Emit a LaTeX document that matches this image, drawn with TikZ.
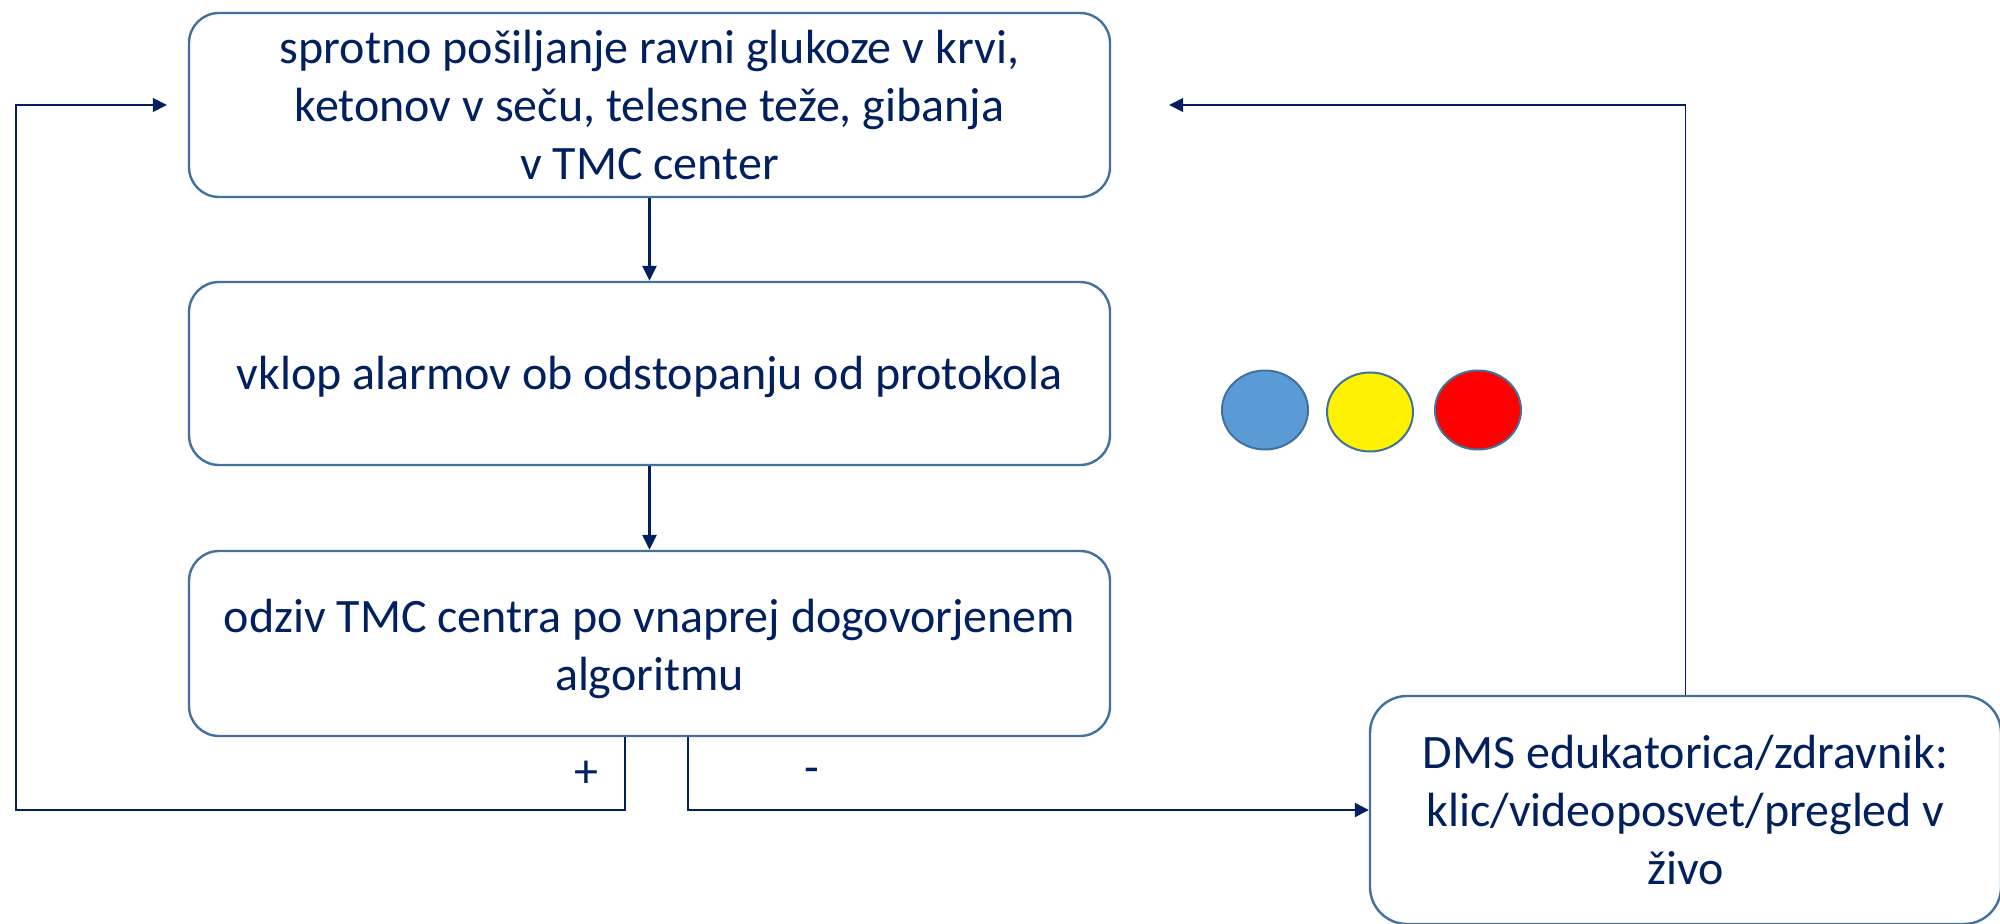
\documentclass[tikz,border=0pt]{standalone}
\usepackage{fontspec}
\setmainfont{Carlito}
\usetikzlibrary{arrows.meta,shapes.geometric,calc}
\definecolor{navy}{HTML}{002060}
\definecolor{boxline}{HTML}{41719C}
\definecolor{cblue}{HTML}{5B9BD5}
\tikzset{
  flowbox/.style={draw=boxline, line width=1.2pt, rounded corners=15pt, fill=white,
    text=navy, align=center, font=\fontsize{24}{29}\selectfont, inner sep=0pt},
  mainarrow/.style={draw=navy, line width=1.5pt, -{Triangle[length=7.5pt,width=7pt]}},
  looparrow/.style={draw=navy, line width=0.8pt, -{Triangle[length=7pt,width=7pt]}},
  minusarrow/.style={draw=navy, line width=1.3pt, -{Triangle[length=7pt,width=7pt]}},
  signlabel/.style={text=navy, font=\fontsize{24}{28}\selectfont, inner sep=0pt},
  lamp/.style={ellipse, draw=boxline, line width=1pt, minimum width=43pt, minimum height=39.5pt, inner sep=0pt}
}
\begin{document}
\begin{tikzpicture}[x=0.5pt,y=-0.5pt]
\useasboundingbox (0,0) rectangle (2000,924);
\node[flowbox, minimum width=460.5pt, minimum height=92pt] (b1) at (649.5,105)
  {\parbox{455pt}{\centering sprotno pošiljanje ravni glukoze v krvi,\\ketonov v seču, telesne teže, gibanja\\v TMC center}};
\node[flowbox, minimum width=460.5pt, minimum height=91.5pt] (b2) at (649.5,373.5)
  {\raisebox{-1.5pt}[\height][\depth]{vklop alarmov ob odstopanju od protokola}};
\node[flowbox, minimum width=460.5pt, minimum height=92.5pt] (b3) at (649.5,643.5)
  {\raisebox{-2.5pt}[\height][\depth]{\parbox{455pt}{\centering odziv TMC centra po vnaprej dogovorjenem\\algoritmu}}};
\node[flowbox, rounded corners=18.5pt, minimum width=315.5pt, minimum height=114pt] (b4) at (1685.5,810)
  {\parbox{310pt}{\centering DMS edukatorica/zdravnik:\\klic/videoposvet/pregled v\\živo}};

\node[lamp, fill=cblue] (c1) at (1265,410) {};
\node[lamp, fill=yellow] (c2) at (1370,412) {};
\node[lamp, fill=red] (c3) at (1478,410) {};

\coordinate (plusx) at (625,0);
\coordinate (minusx) at (688,0);
\coordinate (lowleft) at (16,810);

\draw[mainarrow] (b1) -- (b2);
\draw[mainarrow] (b2) -- (b3);
\draw[looparrow, shorten >=10.5pt] (b3.south -| plusx) |- (lowleft) |- (b1.west);
\draw[minusarrow] (b3.south -| minusx) |- (b4.west);
\draw[looparrow, shorten >=29pt] (b4.north) |- (b1.east);

\node[signlabel] (plus) at (586,774) {+};
\node[signlabel] (minus) at (812,776) {-};
\end{tikzpicture}
\end{document}
